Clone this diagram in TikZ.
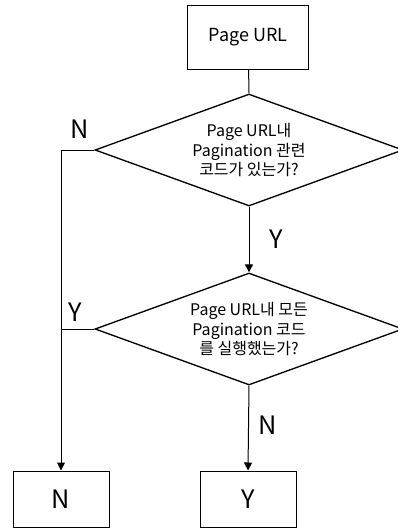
\documentclass[tikz,border=0pt]{standalone}
\usepackage{fontspec}
\setmainfont{Noto Sans CJK KR}
\usepackage{tikz}
\usetikzlibrary{shapes.geometric, arrows.meta}

\begin{document}
\begin{tikzpicture}[x=0.75pt, y=-0.75pt,
	every node/.style={font=\fontsize{12}{14.5}\selectfont},
	pagebox/.style={draw, line width=0.75pt, minimum width=91pt, minimum height=48pt, inner sep=0pt, font=\fontsize{13.5}{16}\selectfont},
	endbox/.style={draw, line width=0.75pt, minimum width=72pt, minimum height=42pt, inner sep=0pt, font=\fontsize{19}{22}\selectfont},
	check/.style={diamond, draw, line width=1pt, shape aspect=2.74, minimum width=231pt, minimum height=84pt, inner sep=0pt, align=center},
	answer/.style={font=\fontsize{19}{22}\selectfont, inner sep=0pt},
	flow/.style={line width=0.75pt, -{Triangle[width=6pt,length=6pt]}},
	link/.style={line width=0.75pt}]
\useasboundingbox (0,0) rectangle (398,529);
\node[pagebox] (url) at (248,37) {Page URL};
\node[check] (hascode) at (249,150) {Page URL내\\Pagination 관련\\코드가 있는가?};
\node[check] (rancode) at (249,329) {Page URL내 모든\\Pagination 코드\\를 실행했는가?};
\node[endbox] (no) at (61,499) {N};
\node[endbox] (yes) at (248,499) {Y};
\coordinate (turn) at (61,150);
\coordinate (join) at (61,329);
% connectors
\draw[link] (url) -- (hascode.north);
\draw[flow] (hascode.south) -- (rancode.north);
\draw[link] (hascode.west) -- (turn);
\draw[flow] (turn) -- (no.north);
\draw[link] (rancode.west) -- (join);
\draw[flow] (rancode.south) -- (yes.north);
% labels
\node[answer] (n1) at (80,129) {N};
\node[answer] (y1) at (276,239) {Y};
\node[answer] (y2) at (75,312) {Y};
\node[answer] (n2) at (268,425) {N};
\end{tikzpicture}
\end{document}
